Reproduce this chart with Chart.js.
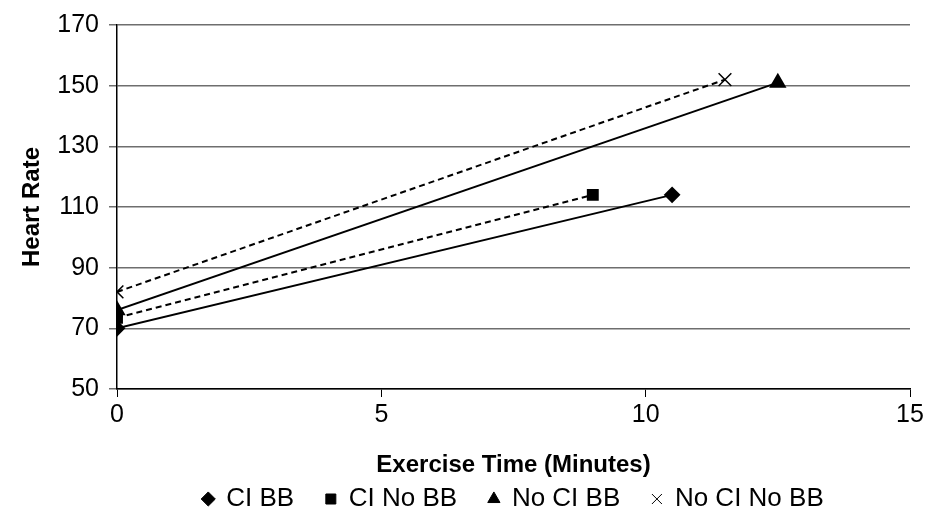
<!DOCTYPE html>
<html lang="en">
<head>
    <meta charset="UTF-8">
    <title>Heart Rate vs Exercise Time</title>
    <style>
        html, body { margin: 0; padding: 0; background: #fff; }
        .graph-container { width: 931px; height: 527px; }
    </style>
</head>
<body>

<div class="graph-container">
    <canvas id="hrChart"></canvas>
</div>

<script src="https://cdn.jsdelivr.net/npm/chart.js"></script>
<script>
    // series names and their start / end points (minutes, heart rate)
    const seriesNames = ['CI BB', 'CI No BB', 'No CI BB', 'No CI No BB'];
    const timeCIBB = [0, 10.5];
    const hrCIBB = [70, 114];
    const timeCINoBB = [0, 9];
    const hrCINoBB = [73.5, 114];
    const timeNoCIBB = [0, 12.5];
    const hrNoCIBB = [76, 151];
    const timeNoCINoBB = [0, 11.5];
    const hrNoCINoBB = [82, 152];
    const yTicks = [50, 70, 90, 110, 130, 150, 170];
    const xTicks = [0, 5, 10, 15];

    const toPoints = (xs, ys) => xs.map((x, i) => ({ x: x, y: ys[i] }));

    const font = "'Liberation Sans', Arial, sans-serif";

    const ctx = document.getElementById('hrChart').getContext('2d');
    const hrData = {
        datasets: [
            {
                label: seriesNames[0],
                data: toPoints(timeCIBB, hrCIBB),
                pointStyle: 'rectRot',
                pointRadius: 7,
            },
            {
                label: seriesNames[1],
                data: toPoints(timeCINoBB, hrCINoBB),
                pointStyle: 'rect',
                pointRadius: 7,
                borderDash: [6, 4],
            },
            {
                label: seriesNames[2],
                data: toPoints(timeNoCIBB, hrNoCIBB),
                pointStyle: 'triangle',
                pointRadius: 8,
            },
            {
                label: seriesNames[3],
                data: toPoints(timeNoCINoBB, hrNoCINoBB),
                pointStyle: 'crossRot',
                pointRadius: 9,
                borderDash: [6, 4],
                pointBorderWidth: 1.5,
            },
        ].map(ds => Object.assign({
            showLine: true,
            borderColor: '#000',
            backgroundColor: '#000',
            borderWidth: 2,
            pointBorderColor: '#000',
            pointBackgroundColor: '#000',
        }, ds))
    };

    const hrConfig = {
        type: 'scatter',
        data: hrData,
        options: {
            responsive: true,
            maintainAspectRatio: false,
            animation: false,
            layout: { padding: { left: 18, right: 21, top: 16, bottom: 5 } },
            plugins: {
                legend: {
                    position: 'bottom',
                    fullSize: false,
                    labels: {
                        usePointStyle: true,
                        boxWidth: 10,
                        boxHeight: 10,
                        padding: 10,
                        color: '#000',
                        font: { family: font, size: 26 },
                        generateLabels: chart => {
                            const items = Chart.defaults.plugins.legend.labels.generateLabels(chart);
                            // wider gaps between entries, like the original legend
                            items.forEach((it, i) => {
                                if (i < items.length - 1) it.text = it.text + '   ';
                                it.lineWidth = 1;
                                it.lineDash = [];
                            });
                            return items;
                        },
                    },
                },
                tooltip: { enabled: false },
            },
            scales: {
                x: {
                    type: 'linear',
                    min: 0,
                    max: 15,
                    afterBuildTicks: s => { s.ticks = xTicks.map(v => ({ value: v })); },
                    grid: { drawOnChartArea: false, color: '#000', tickLength: 8 },
                    border: { color: '#000', width: 1.5 },
                    ticks: { color: '#000', font: { family: font, size: 25 }, padding: 3 },
                    title: {
                        display: true,
                        text: 'Exercise Time (Minutes)',
                        color: '#000',
                        font: { family: font, size: 24, weight: 'bold' },
                        padding: { top: 0, bottom: -4 },
                    },
                    afterFit: s => { s.height = 87; },
                },
                y: {
                    min: 50,
                    max: 170,
                    afterBuildTicks: s => { s.ticks = yTicks.map(v => ({ value: v })); },
                    grid: { color: '#6e6e6e', lineWidth: 1.5, tickLength: 8 },
                    border: { color: '#000', width: 1.5 },
                    ticks: { color: '#000', font: { family: font, size: 25 }, padding: 10 },
                    title: {
                        display: true,
                        text: 'Heart Rate',
                        color: '#000',
                        font: { family: font, size: 24, weight: 'bold' },
                        padding: { top: 0, bottom: 0 },
                    },
                    afterFit: s => { s.width = 99; },
                },
            },
        }
    };

    const hrChart = new Chart(ctx, hrConfig);
</script>

</body>
</html>
